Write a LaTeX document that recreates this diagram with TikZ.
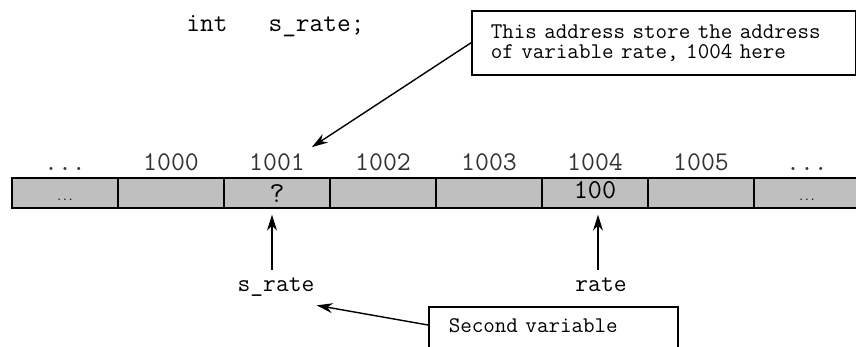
\documentclass[tikz,border=0pt]{standalone}
\usepackage{fontspec}
\usepackage{tikz}
\usetikzlibrary{arrows.meta}
\usetikzlibrary{calc}
\tikzset{
  memcell/.style={draw, fill=black!25, line width=0.7pt, minimum width=53pt, minimum height=15pt, inner sep=0pt},
  addrlabel/.style={anchor=base, text=black!80, font=\ttfamily\fontsize{13.5}{14}\selectfont},
  cellval/.style={anchor=base, font=\ttfamily\fontsize{12}{12}\selectfont},
  varname/.style={anchor=base, inner sep=0pt, font=\ttfamily\fontsize{12.4}{14}\selectfont},
  notebox/.style={draw, line width=0.8pt, anchor=north west, align=left, inner ysep=0pt, font=\ttfamily\fontsize{11.2}{10}\selectfont},
  ptr/.style={-{Stealth[length=8pt,width=5pt]}, line width=0.7pt}
}

\begin{document}
\begin{tikzpicture}[x=0.5pt, y=-0.5pt]
  \useasboundingbox (0,0) rectangle (856,347);
  % declaration
  \node[anchor=base west, inner sep=0pt, font=\ttfamily\fontsize{13.3}{14}\selectfont] (decl) at (186,32) {int~~~s\_rate;};
  % memory strip
  \foreach \i/\addr in {0/{...},1/1000,2/1001,3/1002,4/1003,5/1004,6/1005,7/{...}} {
    \node[memcell] (c\i) at (65+106*\i,193) {};
    \node[addrlabel] (a\i) at (65+106*\i,171) {\addr};
  }
  \node[cellval, font=\ttfamily\fontsize{5.4}{6}\selectfont] (v0) at (c0 |- 0,201) {...};
  \node[cellval, font=\ttfamily\fontsize{14.5}{14}\selectfont] (v2) at (c2 |- 0,203) {?};
  \node[cellval, font=\ttfamily\fontsize{13.7}{14}\selectfont] (v5) at (c5 |- 0,199) {100};
  \node[cellval, font=\ttfamily\fontsize{5.4}{6}\selectfont] (v7) at (c7 |- 0,201) {...};
  % variables
  \node[varname] (srate) at (276,292) {s\_rate};
  \node[varname] (rate) at (601,292) {rate};
  \draw[ptr] ($(srate.north)+(-4,-8)$) -- ($(srate.north |- c2.south)+(-4,6)$);
  \draw[ptr] ($(rate.north)+(-3,-8)$) -- ($(rate.north |- c5.south)+(-3,6)$);
  % notes
  \node[notebox, inner xsep=9.5pt, minimum height=32pt, text width=173pt] (note1) at (471,10)
    {This address store the address\\of variable rate, 1004 here};
  \node[notebox, inner xsep=10pt, text width=104.5pt, text depth=20pt] (note2) at (428,306)
    {\rule{0pt}{13pt}Second variable};
  \draw[ptr] (note1.west) -- (a2.north east);
  \draw[ptr] ([yshift=-9.5pt]note2.north west) -- ([shift={(1pt,-4pt)}]srate.south east);
\end{tikzpicture}
\end{document}
